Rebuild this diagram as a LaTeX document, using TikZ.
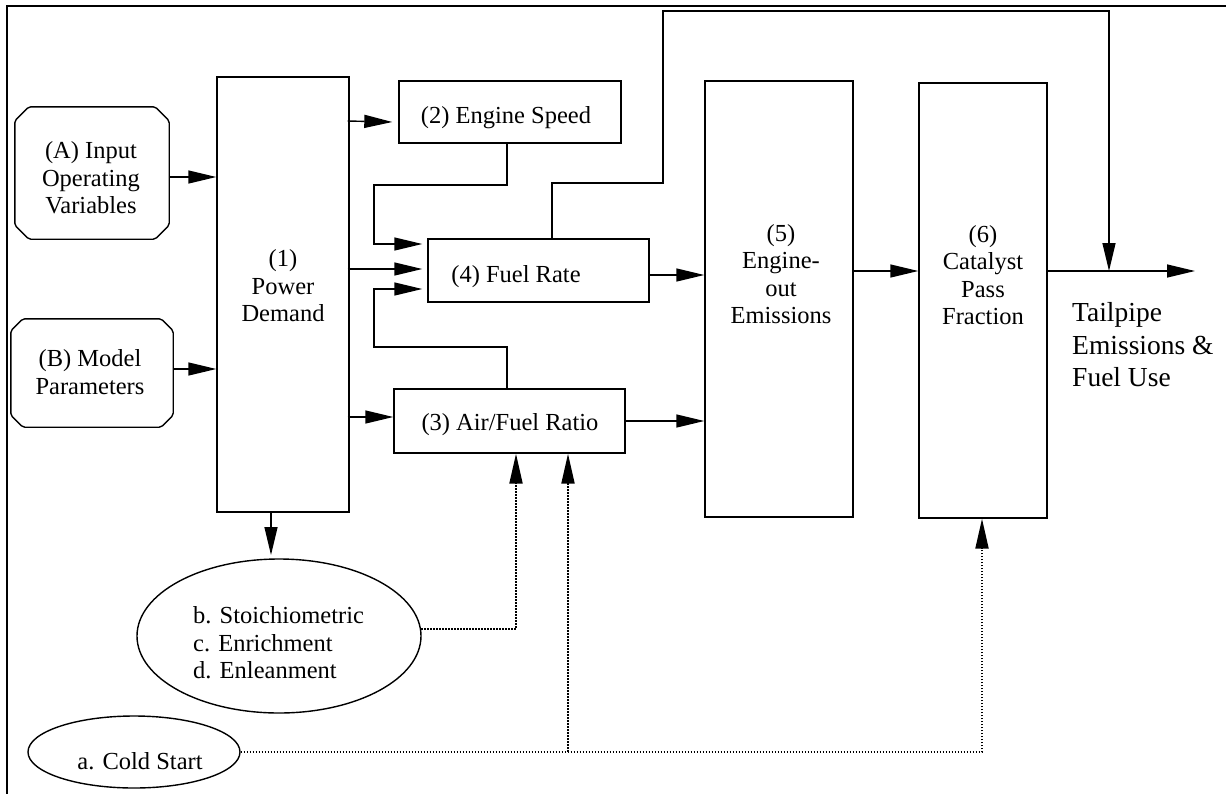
\documentclass[tikz,border=0pt]{standalone}
\usepackage{fontspec}
\setmainfont{Liberation Serif}
\usetikzlibrary{arrows.meta,shapes.geometric,calc}
\begin{document}
\begin{tikzpicture}[x=1pt,y=-1pt,
  box/.style={draw,line width=1.4pt,rectangle,inner sep=0pt},
  cbox/.style={rectangle,inner sep=0pt},
  ell/.style={draw,line width=1.4pt,ellipse,inner sep=0pt},
  txt/.style={inner sep=0pt,align=center,font=\fontsize{24.5}{27.5}\selectfont},
  arr/.style={line width=1.4pt,-{Triangle[length=28pt,width=13pt]}},
  con/.style={line width=1.4pt},
  darr/.style={line width=2pt,dash pattern=on 1.6pt off 1.4pt,-{Triangle[length=30pt,width=13pt]}}]
\useasboundingbox (0,0) rectangle (1226,793);
\clip (0,0) rectangle (1226,793);
% frame
\draw[con] (7,800) -- (7,6) -- (1230,6);
% chamfered boxes
\node[cbox,minimum width=154pt,minimum height=132pt] (A) at (92,173) {};
\draw[con,rounded corners=2pt] ([xshift=14pt]A.north west) -- ([xshift=-14pt]A.north east) -- ([yshift=-14pt]A.north east)
  -- ([yshift=14pt]A.south east) -- ([xshift=-14pt]A.south east) -- ([xshift=14pt]A.south west)
  -- ([yshift=14pt]A.south west) -- ([yshift=-14pt]A.north west) -- cycle;
\node[txt] (At) at (91,178) {(A) Input\\Operating\\Variables};
\node[cbox,minimum width=162pt,minimum height=108pt] (B) at (92,373) {};
\draw[con,rounded corners=2pt] ([xshift=12pt]B.north west) -- ([xshift=-12pt]B.north east) -- ([yshift=-12pt]B.north east)
  -- ([yshift=12pt]B.south east) -- ([xshift=-12pt]B.south east) -- ([xshift=12pt]B.south west)
  -- ([yshift=12pt]B.south west) -- ([yshift=-12pt]B.north west) -- cycle;
\node[txt] (Bt) at (90,372) {(B) Model\\Parameters};
% boxes
\node[box,minimum width=132pt,minimum height=435pt] (n1) at (283,294.5) {};
\node[txt] (n1t) at (283,286) {(1)\\Power\\Demand};
\node[box,minimum width=222pt,minimum height=62pt] (n2) at (510,112) {};
\node[txt] (n2t) at (506,118) {(2) Engine Speed};
\node[box,minimum width=221pt,minimum height=63pt] (n4) at (538.5,270.5) {};
\node[txt] (n4t) at (516,277) {(4) Fuel Rate};
\node[box,minimum width=231pt,minimum height=64pt] (n3) at (509.5,421) {};
\node[txt] (n3t) at (510,425) {(3) Air/Fuel Ratio};
\node[box,minimum width=148pt,minimum height=436pt] (n5) at (779,299) {};
\node[txt] (n5t) at (781,274) {(5)\\Engine-\\out\\Emissions};
\node[box,minimum width=128pt,minimum height=435pt] (n6) at (983,300.5) {};
\node[txt] (n6t) at (983,275) {(6)\\Catalyst\\Pass\\Fraction};
\node[txt,align=left,anchor=west,font=\fontsize{27.5}{32.5}\selectfont] (tp) at (1072,345) {Tailpipe\\Emissions \&\\Fuel Use};
\node[ell,minimum width=284pt,minimum height=154pt] (e1) at (279,636) {};
\node[txt,align=left,anchor=west] (e1t) at (193,643) {b. Stoichiometric\\c. Enrichment\\d. Enleanment};
\node[ell,minimum width=212pt,minimum height=72pt] (e2) at (134,752) {};
\node[txt] (e2t) at (140,761) {a. Cold Start};
% coordinates
\coordinate (j1) at (374,185);
\coordinate (j2) at (374,347);
\coordinate (k1) at (552,183);
\coordinate (k2) at (663,11);
\coordinate (jn) at (1109,271);
\coordinate (out) at (1195,271);
% connectors
\draw[arr] (A.east |- 0,177) -- (n1.west |- 0,177);
\draw[arr] (B.east |- 0,369) -- (n1.west |- 0,369);
\draw[arr] ([xshift=-2pt]n1.east |- 0,121) -- ([xshift=-6pt]n2.west |- 0,122);
\draw[arr] ([xshift=-2pt]n1.east |- 0,269) -- ([xshift=-5pt]n4.west |- 0,269);
\draw[arr] ([xshift=-2pt]n1.east |- 0,417) -- (n3.west |- 0,417);
\draw[arr] (271,0 |- n1.south) -- (271,555);
\draw[arr] (507,0 |- n2.south) |- (j1) |- ([xshift=-5pt]n4.west |- 0,244);
\draw[arr] (507,0 |- n3.north) |- (j2) |- ([xshift=-5pt]n4.west |- 0,289);
\draw[arr] (n4.east |- 0,275) -- (n5.west |- 0,275);
\draw[arr] (n3.east |- 0,421) -- (n5.west |- 0,421);
\draw[arr] (n5.east |- 0,271) -- (n6.west |- 0,271);
\draw[arr] (n6.east |- out) -- (out);
\draw[arr] (k1 |- n4.north) -- (k1) -| (k2) -| (jn);
% dotted
\draw[darr] (e1.3) -| (516,0 |- n3.south);
\draw[darr] (e2.east) -| (982,0 |- n6.south);
\draw[darr] (568,0 |- e2.east) -- (568,0 |- n3.south);
\end{tikzpicture}
\end{document}
